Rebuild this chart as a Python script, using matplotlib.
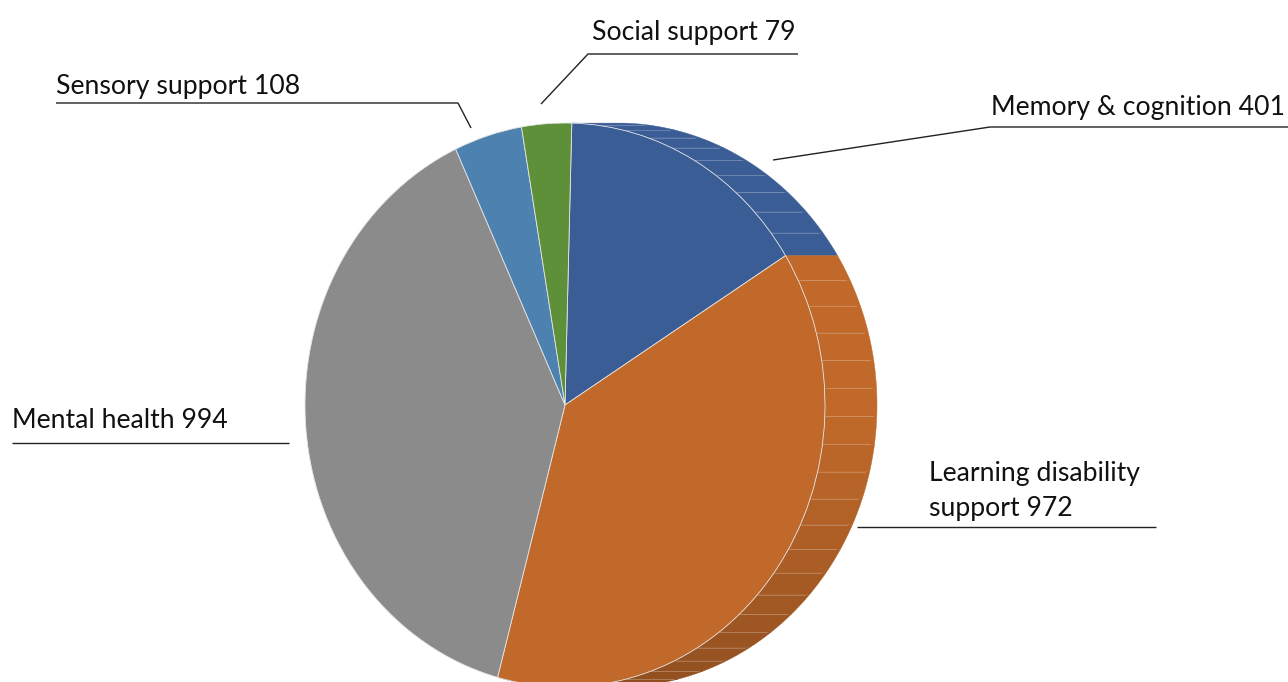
import numpy as np
import matplotlib
matplotlib.use("Agg")
import matplotlib.pyplot as plt
from matplotlib.patches import Polygon
from matplotlib.colors import to_rgb

# ---- data ----
categories = ["Memory & cognition", "Learning disability support", "Mental health",
              "Sensory support", "Social support"]
values = [401, 972, 994, 108, 79]
colors = ["#3A5D96", "#C0692A", "#8A8B8A", "#4D81B0", "#5E9039"]
extruded = [0, 1]          # slices whose side wall is visible

# ---- canvas ----
W, H = 1288, 682
fig = plt.figure(figsize=(W / 100, H / 100), dpi=100)
fig.patch.set_facecolor("white")

# pie face: ellipse centre / radii in pixels
cx, cy, rx, ry = 565, 405, 260, 282
ax = fig.add_axes([0, 0, 1, 1])
start = 88.5
depth = 0.2               # side wall depth, in radius units

total = float(sum(values))
cum = np.concatenate([[0], np.cumsum(values)]) / total
edges = start - 360 * cum  # clockwise boundaries in degrees


def shade(c, f):
    r, g, b = to_rgb(c)
    return (r * f, g * f, b * f)


# side wall facets for the extruded slices
for i in extruded:
    t0, t1 = edges[i], edges[i + 1]
    n = max(2, int(round((t0 - t1) / 5.6)))
    ts = np.linspace(t0, t1, n + 1)
    for a, b in zip(ts[:-1], ts[1:]):
        arc = np.radians(np.linspace(a, b, 10))
        fx, fy = np.cos(arc), np.sin(arc)
        pts = np.column_stack([np.concatenate([fx, (fx + depth)[::-1]]),
                               np.concatenate([fy, fy[::-1]])])
        mid = np.radians((a + b) / 2)
        f = 1 - 0.25 * max(0.0, -np.sin(mid)) ** 1.3
        ax.add_patch(Polygon(pts, closed=True, facecolor=shade(colors[i], f),
                             edgecolor=shade(colors[i], f), linewidth=0.3, zorder=0.5))
    for t in ts[1:-1]:
        tr = np.radians(t)
        ax.plot([np.cos(tr), np.cos(tr) + depth * 0.92], [np.sin(tr), np.sin(tr)],
                color="white", alpha=0.22, lw=0.7, zorder=0.6, solid_capstyle="butt")

# front face
wedges, _ = ax.pie(values, colors=colors, startangle=start, counterclock=False,
                   radius=1, center=(0, 0),
                   wedgeprops=dict(edgecolor="#e4e4e4", linewidth=0.6))
for w in wedges:
    w.set_zorder(1)

ax.set_aspect("auto")
ax.set_xlim(-cx / rx, (W - cx) / rx)
ax.set_ylim((cy - H) / ry, cy / ry)
ax.axis("off")

# ---- labels and leader lines (pixel coordinates) ----
lax = fig.add_axes([0, 0, 1, 1])
lax.set_xlim(0, W)
lax.set_ylim(H, 0)
lax.axis("off")
lax.patch.set_alpha(0)

labels = [f"{c} {v}" for c, v in zip(categories, values)]
labels[1] = labels[1].replace("disability ", "disability\n")

font = dict(family=["Lato", "DejaVu Sans"], fontsize=19.2, color="#111111")
line_kw = dict(color="#222222", lw=1.0, solid_capstyle="butt")

# (text x, baseline y of the last line, leader polyline)
layout = {
    0: (991, 115, [(773, 160), (990, 127), (1288, 127)]),
    1: (929, 516, [(857, 527), (1156, 527)]),
    2: (12, 428, [(12, 443), (289, 443)]),
    3: (56, 94, [(471, 128), (458, 103), (56, 103)]),
    4: (592, 40, [(541, 104), (588, 54), (798, 54)]),
}
for i, (tx, ty, path) in layout.items():
    lax.text(tx, ty, labels[i], ha="left", va="baseline", linespacing=1.5, **font)
    xs, ys = zip(*path)
    lax.plot(xs, ys, **line_kw)

fig.savefig("out.png", dpi=100, facecolor="white")
